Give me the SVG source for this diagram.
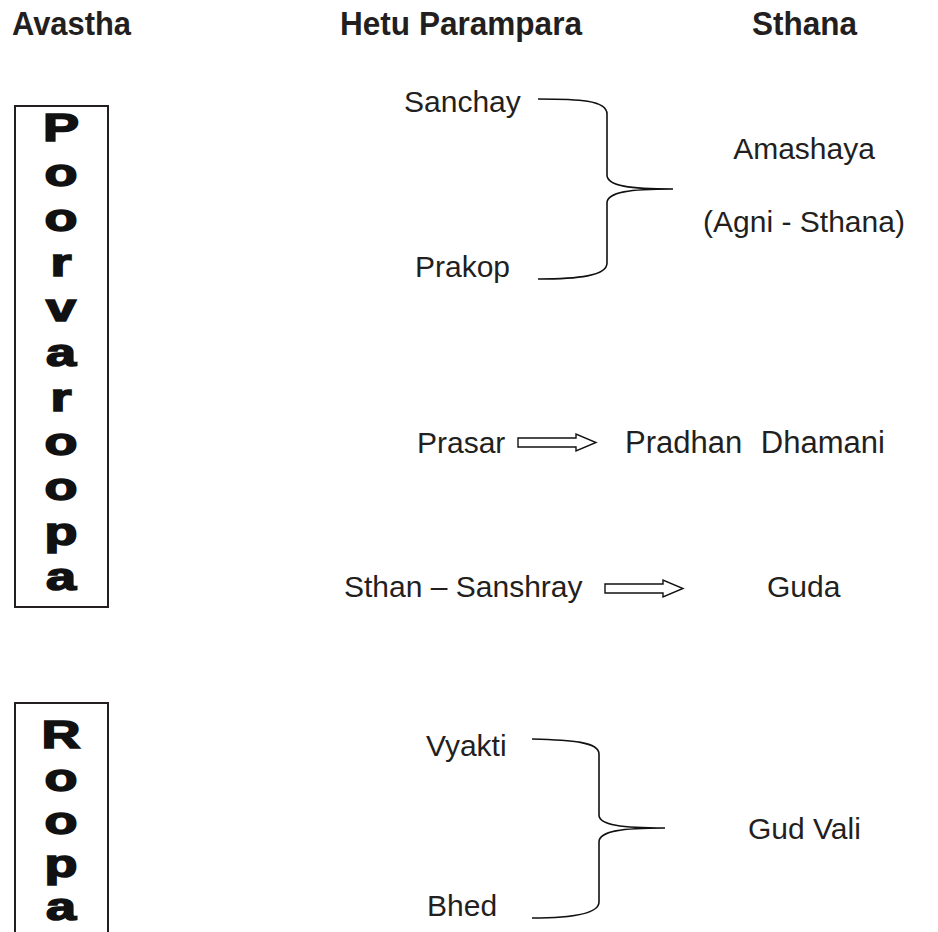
<svg xmlns="http://www.w3.org/2000/svg" width="938" height="932" viewBox="0 0 938 932">
  <defs>
    <style>
      .hdr { font-family: "Liberation Sans", Arial, sans-serif; font-weight: bold; font-size: 34px; fill: #231f20; }
      .lbl { font-family: "Liberation Sans", Arial, sans-serif; font-size: 30px; fill: #231f20; }
      .vert { font-family: "Liberation Sans", Arial, sans-serif; font-weight: 900; font-size: 38px; fill: #111; stroke: #111; stroke-width: 1.6; text-anchor: middle; }
      .box { fill: none; stroke: #231f20; stroke-width: 2; }
      .brace { fill: none; stroke: #111; stroke-width: 1.6; }
      .block { fill: #fff; stroke: #111; stroke-width: 1.4; stroke-linejoin: miter; }
    </style>
  </defs>
  <rect width="938" height="932" fill="#fff"/>

  <!-- column headings -->
  <g id="headings">
    <text class="hdr" x="12" y="35" textLength="119" lengthAdjust="spacingAndGlyphs">Avastha</text>
    <text class="hdr" x="340" y="35" textLength="242" lengthAdjust="spacingAndGlyphs">Hetu Parampara</text>
    <text class="hdr" x="752" y="35" textLength="105" lengthAdjust="spacingAndGlyphs">Sthana</text>
  </g>

  <!-- stage boxes with vertical lettering -->
  <g id="poorvaroopa">
    <rect class="box" x="15" y="106" width="93" height="501"/>
    <g transform="translate(61 0) scale(1.42 1)">
      <text class="vert" x="0" y="141">P</text>
      <text class="vert" x="0" y="186">o</text>
      <text class="vert" x="0" y="231">o</text>
      <text class="vert" x="0" y="276">r</text>
      <text class="vert" x="0" y="321">v</text>
      <text class="vert" x="0" y="366">a</text>
      <text class="vert" x="0" y="411">r</text>
      <text class="vert" x="0" y="455">o</text>
      <text class="vert" x="0" y="500">o</text>
      <text class="vert" x="0" y="545">p</text>
      <text class="vert" x="0" y="590">a</text>
    </g>
  </g>

  <g id="roopa">
    <rect class="box" x="15" y="703" width="93" height="240"/>
    <g transform="translate(61 0) scale(1.42 1)">
      <text class="vert" x="0" y="748">R</text>
      <text class="vert" x="0" y="791">o</text>
      <text class="vert" x="0" y="834">o</text>
      <text class="vert" x="0" y="877">p</text>
      <text class="vert" x="0" y="920">a</text>
    </g>
  </g>

  <!-- hetu parampara stages -->
  <g id="sanchay"><text class="lbl" x="404" y="112">Sanchay</text></g>
  <g id="prakop"><text class="lbl" x="415" y="277">Prakop</text></g>
  <g id="prasar"><text class="lbl" x="417" y="453">Prasar</text></g>
  <g id="sthan-sanshray"><text class="lbl" x="344" y="597">Sthan – Sanshray</text></g>
  <g id="vyakti"><text class="lbl" x="426" y="756">Vyakti</text></g>
  <g id="bhed"><text class="lbl" x="427" y="916">Bhed</text></g>

  <!-- sthana -->
  <g id="amashaya">
    <text class="lbl" x="804" y="159" text-anchor="middle">Amashaya</text>
    <text class="lbl" x="804" y="232" text-anchor="middle">(Agni - Sthana)</text>
  </g>
  <g id="pradhan-dhamani"><text class="lbl" x="625" y="453" style="font-size:31px; word-spacing:10px">Pradhan Dhamani</text></g>
  <g id="guda"><text class="lbl" x="767" y="597">Guda</text></g>
  <g id="gud-vali"><text class="lbl" x="748" y="839">Gud Vali</text></g>

  <!-- connectors -->
  <g id="connectors">
    <path class="brace" d="M538,99 C578,99 607,100 607,114 L607,175 C607,186 630,189 673,189 C630,189 607,192 607,203 L607,263 C607,276 578,279 538,279"/>
    <path class="brace" d="M532,739 C572,740 599,742 599,754 L599,815 C599,825 622,828 665,828 C622,828 599,831 599,842 L599,902 C599,914 572,918 532,918"/>
    <path class="block" d="M518,438 L576,438 L576,434 L596,442.5 L576,451 L576,447 L518,447 Z"/>
    <path class="block" d="M605,584 L663,584 L663,580 L683,588.5 L663,597 L663,593 L605,593 Z"/>
  </g>
</svg>
